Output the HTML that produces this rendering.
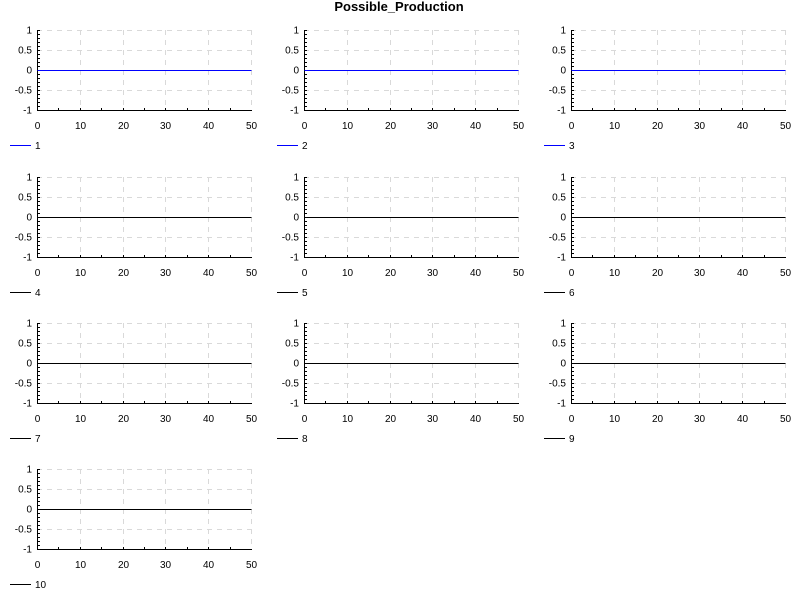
<!DOCTYPE html>
<html><head><meta charset="utf-8"><style>
html,body{margin:0;padding:0;background:#fff;}
svg{display:block;font-family:"Liberation Sans",sans-serif;}
</style></head><body>
<svg id="chart" width="800" height="600" viewBox="0 0 800 600">
<text x="399" y="11" text-anchor="middle" font-size="13" font-weight="bold">Possible_Production</text>
</svg>
<script>
const seriesNames = ["1","2","3","4","5","6","7","8","9","10"];
const seriesX = [0, 50];
const seriesValues = [
  [0,0],[0,0],[0,0],[0,0],[0,0],[0,0],[0,0],[0,0],[0,0],[0,0]
];
const xTicks = [0,10,20,30,40,50];
const yTicks = [-1,-0.5,0,0.5,1];
const yTickLabels = ["-1","-0.5","0","0.5","1"];

const NS="http://www.w3.org/2000/svg";
const svg=document.getElementById('chart');
const colX=[37,304,571], rowY=[30,177,323,469], PW=214, PH=80;
function mk(tag,attrs,parent){const e=document.createElementNS(NS,tag);for(const k in attrs)e.setAttribute(k,attrs[k]);(parent||svg).appendChild(e);return e;}

seriesNames.forEach((name,i)=>{
  const x0=colX[i%3], y0=rowY[Math.floor(i/3)];
  const sx=v=>Math.round(x0+(v-0)/(50-0)*PW)+0.5;
  const sy=v=>Math.round(y0+PH-(v-(-1))/2*PH)+0.5;
  const g=mk('g',{});
  
  
  xTicks.forEach(t=>{ if(t>0){const l=mk('line',{x1:sx(t),x2:sx(t),y1:y0,y2:y0+PH,stroke:'#d9d9d9','stroke-dasharray':'5,5','stroke-width':1},g);
    
    }});
  yTicks.forEach(t=>{ if(t>-1){const l=mk('line',{x1:x0,x2:x0+PW,y1:sy(t),y2:sy(t),stroke:'#d9d9d9','stroke-dasharray':'5,5','stroke-width':1},g);
    
    }});
  const ax=mk('path',{d:`M${x0+0.5},${y0} V${y0+PH+0.5} H${x0+PW+1}`,stroke:'#000',fill:'none','stroke-width':1},g);
  
  
  for(let k=0;k<=20;k++){const v=-1+k*0.1;mk('line',{x1:x0+1,x2:x0+3,y1:sy(v),y2:sy(v),stroke:'#000','stroke-width':1},g);}
  for(let v=5;v<50;v+=5){mk('line',{x1:sx(v),x2:sx(v),y1:y0+PH,y2:y0+PH-2,stroke:'#000','stroke-width':1},g);}
  yTicks.forEach((t,k)=>{const tx=mk('text',{x:x0-5,y:sy(t)+3,'text-anchor':'end','font-size':10},g);tx.textContent=yTickLabels[k];
    
    });
  xTicks.forEach(t=>{const tx=mk('text',{x:sx(t),y:y0+PH+19,'text-anchor':'middle','font-size':10},g);tx.textContent=String(t);
    
    });
  const color=i<3?'#0000ff':'#000000';
  const pts=seriesX.map((xv,k)=>sx(xv)+','+sy(seriesValues[i][k])).join(' ');
  const pl=mk('polyline',{points:pts,stroke:color,fill:'none','stroke-width':1},g);
  
  
  const ly=y0+PH+35;
  const ll=mk('line',{x1:x0-27,x2:x0-6,y1:ly+0.5,y2:ly+0.5,stroke:color,'stroke-width':1},g);
  
  
  const lt=mk('text',{x:x0-2,y:ly+4,'font-size':10},g);lt.textContent=name;
  
  
});
</script>
</body></html>
